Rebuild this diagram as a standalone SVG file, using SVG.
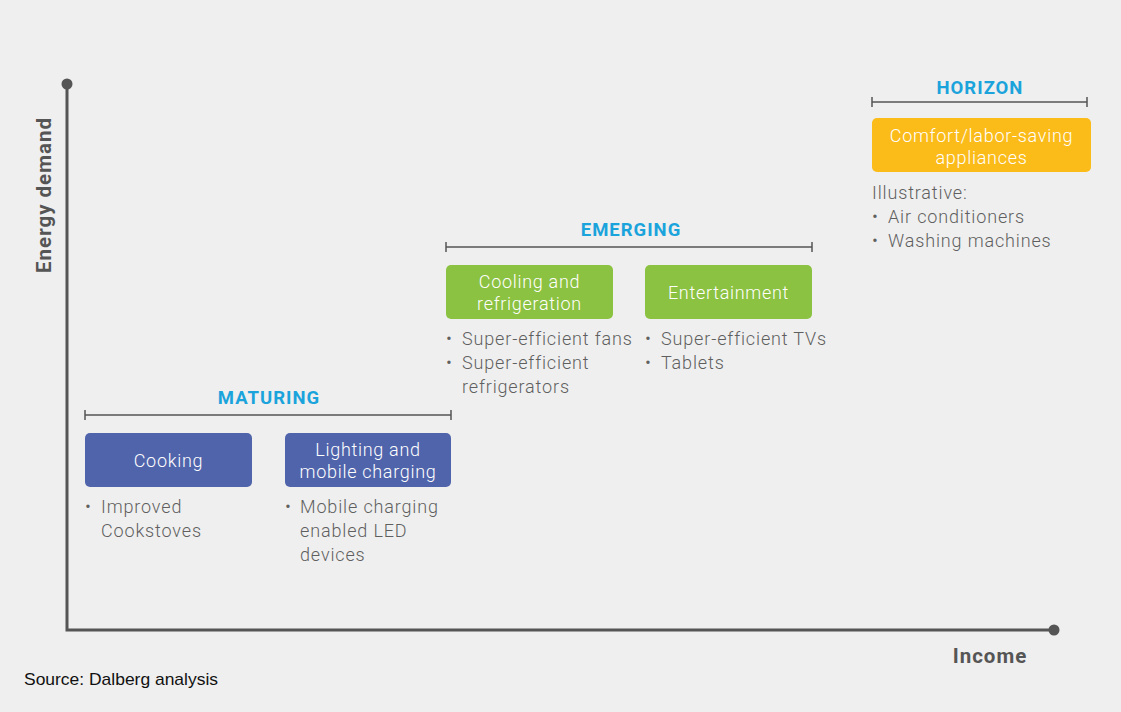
<svg xmlns="http://www.w3.org/2000/svg" width="1121" height="712" viewBox="0 0 1121 712">
<defs>
<style>
.hdr{font-family:Roboto,"Liberation Sans",sans-serif;font-weight:700;font-size:18.5px;letter-spacing:1px;fill:#1ba3dc;text-anchor:middle}
.box{font-family:Roboto,"Liberation Sans",sans-serif;font-weight:300;font-size:18px;letter-spacing:0.7px;fill:#ffffff;text-anchor:middle}
.bul{font-family:Roboto,"Liberation Sans",sans-serif;font-weight:300;font-size:18px;letter-spacing:0.85px;fill:#5f5f5f}
.ax{font-family:Roboto,"Liberation Sans",sans-serif;font-weight:700;font-size:20.5px;letter-spacing:1px;fill:#555555}
.brk{stroke:#555555;stroke-width:1.5;fill:none}
.axis{stroke:#555555;stroke-width:3;fill:none}
</style>
</defs>
<rect width="1121" height="712" fill="#efefef"/>
<g id="axes">
<path class="axis" d="M67,84 V630 H1054"/>
<circle cx="67" cy="84" r="5.5" fill="#555555"/>
<circle cx="1054" cy="630" r="5.5" fill="#555555"/>
<text class="ax" transform="translate(51,195) rotate(-90)" text-anchor="middle">Energy demand</text>
<text class="ax" x="990" y="663" text-anchor="middle">Income</text>
</g>
<g id="connectors">
<path class="brk" d="M85,415 H451 M85,410 V420 M451,410 V420"/>
<path class="brk" d="M446,247 H812 M446,242 V252 M812,242 V252"/>
<path class="brk" d="M872,102 H1087 M872,97 V107 M1087,97 V107"/>
</g>
<g id="maturing">
<text class="hdr" x="269" y="404">MATURING</text>
</g>
<g id="emerging">
<text class="hdr" x="631" y="236">EMERGING</text>
</g>
<g id="horizon">
<text class="hdr" x="980" y="94">HORIZON</text>
</g>
<g id="cooking">
<rect x="85" y="433" width="167" height="54" rx="5" fill="#5064ab"/>
<text class="box" x="168.5" y="467">Cooking</text>
<text class="bul" x="85" y="513">•<tspan x="101">Improved</tspan></text>
<text class="bul" x="101" y="537">Cookstoves</text>
</g>
<g id="lighting">
<rect x="285" y="433" width="166" height="54" rx="5" fill="#5064ab"/>
<text class="box" x="368" y="456">Lighting and</text>
<text class="box" x="368" y="478">mobile charging</text>
<text class="bul" x="285" y="513">•<tspan x="300">Mobile charging</tspan></text>
<text class="bul" x="300" y="537">enabled LED</text>
<text class="bul" x="300" y="561">devices</text>
</g>
<g id="cooling">
<rect x="446" y="265" width="167" height="54" rx="5" fill="#8cc241"/>
<text class="box" x="529.5" y="288">Cooling and</text>
<text class="box" x="529.5" y="310">refrigeration</text>
<text class="bul" x="446" y="345">•<tspan x="462">Super-efficient fans</tspan></text>
<text class="bul" x="446" y="369">•<tspan x="462">Super-efficient</tspan></text>
<text class="bul" x="462" y="393">refrigerators</text>
</g>
<g id="entertainment">
<rect x="645" y="265" width="167" height="54" rx="5" fill="#8cc241"/>
<text class="box" x="728.5" y="299">Entertainment</text>
<text class="bul" x="645" y="345">•<tspan x="661">Super-efficient TVs</tspan></text>
<text class="bul" x="645" y="369">•<tspan x="661">Tablets</tspan></text>
</g>
<g id="comfort">
<rect x="872" y="118" width="219" height="54" rx="5" fill="#fbbb19"/>
<text class="box" x="981.5" y="142">Comfort/labor-saving</text>
<text class="box" x="981.5" y="164">appliances</text>
<text class="bul" x="872" y="199">Illustrative:</text>
<text class="bul" x="872" y="223">•<tspan x="888">Air conditioners</tspan></text>
<text class="bul" x="872" y="247">•<tspan x="888">Washing machines</tspan></text>
</g>
<text x="24" y="685" font-family="'Liberation Sans',sans-serif" font-size="17" fill="#111111" textLength="194" lengthAdjust="spacingAndGlyphs">Source: Dalberg analysis</text>
</svg>
